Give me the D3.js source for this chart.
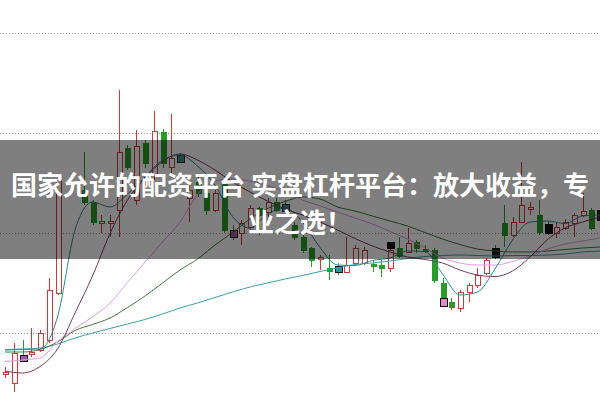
<!DOCTYPE html>
<html><head><meta charset="utf-8">
<script src="https://cdn.jsdelivr.net/npm/d3@7/dist/d3.min.js"></script>
<style>body{margin:0;background:#fff}svg{display:block}</style>
</head><body>
<svg id="chart" width="600" height="400"></svg>
<script>
// ---- data (price units) ----
const opens  = [5.9,5.0,7.8,7.9,8.3,9.3,14.0,null,null,24.3,23.1,21.0,21.0,22.3,28.5,23.3,29.0,25.8,30.1,26.6,27.8,23.5,25.1,24.0,22.3,25.0,20.3,20.0,20.6,22.5,22.1,23.1,22.9,20.8,19.6,18.5,17.4,16.5,16.7,16.1,17.0,17.0,16.9,16.8,16.5,18.5,18.1,19.1,18.4,18.3,15.0,13.1,12.5,14.1,14.8,16.0,18.4,21.0,19.8,21.1,22.4,21.8,20.9,20.0,20.5,21.0,21.8,22.3,22.3];
const highs  = [6.6,9.0,9.3,10.5,10.3,15.5,25.5,null,null,28.1,23.3,21.8,21.8,34.3,28.8,30.3,29.3,32.2,30.4,31.9,28.0,24.8,25.6,24.3,24.3,25.3,20.8,21.3,22.8,22.6,23.5,23.5,23.3,21.1,20.0,18.6,17.8,17.8,17.0,19.6,18.8,18.6,17.3,17.3,19.0,19.6,20.5,19.3,18.8,18.5,15.5,13.5,14.3,15.0,16.5,17.5,18.8,22.8,21.6,27.1,23.1,23.3,21.2,21.0,21.4,22.0,24.0,22.5,22.5];
const lows   = [5.5,4.1,7.2,7.6,8.1,9.0,13.8,null,null,22.8,20.8,20.0,19.6,19.6,26.3,22.8,26.5,25.3,26.5,26.0,27.0,21.1,23.6,21.8,22.1,20.0,19.3,18.8,20.3,19.8,21.6,22.1,22.1,19.3,18.0,16.6,16.3,15.3,15.8,16.0,16.8,16.8,16.1,15.6,16.1,17.5,18.0,18.0,18.0,15.0,12.7,12.3,12.1,13.1,14.5,15.8,17.4,18.6,19.6,21.0,21.8,19.8,19.8,19.5,20.3,19.6,21.6,20.3,21.0];
const closes = [6.1,8.0,7.3,8.1,10.0,14.3,25.3,null,null,23.1,21.1,21.2,21.2,28.1,26.6,28.7,27.0,30.2,27.0,27.5,27.3,24.3,24.0,22.3,24.0,20.3,19.6,21.0,22.5,21.8,23.1,22.3,22.3,19.6,18.3,17.3,17.6,16.2,16.1,16.8,18.5,18.3,16.7,16.5,18.3,17.7,19.0,18.5,18.2,15.3,13.5,12.6,14.1,14.8,15.8,17.3,17.6,19.8,21.1,22.8,22.6,20.1,20.1,20.6,21.1,21.8,22.2,20.5,21.3];

// signal boxes
const markIdx  = [2,20,26,32,38,44,50,56,62,68];
const markHi   = [7.8,27.8,20.3,22.9,16.7,19.1,13.5,18.5,20.9,22.3];
const markLo   = [7.2,27.1,19.6,22.2,16.1,18.5,12.7,17.6,20.0,21.3];
const markKind = ["purple","teal","purple","teal","teal","black","pink","black","black","black"];

// moving averages sampled at even candle indices
const maIdx = d3.range(0, 69, 2);
const ma5  = [8.3,8.35,8.4,11.6,20.3,23.1,22.6,23.9,25.6,27.3,27.8,26.7,24.8,21.65,20.5,21.9,22.5,21.1,18.55,16.8,16.75,17.26,17.5,18.2,18.15,15.9,13.8,14.1,16.4,19.3,21.1,21.2,20.95,21.7,21.8];
const ma10 = [6.2,6.0,6.65,8.4,12.0,15.7,19.95,23.3,25.5,27.15,27.9,27.3,26.3,25.1,24.1,23.2,22.4,21.8,21.1,20.3,19.45,18.7,18.1,17.6,17.35,17.0,16.3,15.8,15.65,16.2,17.6,19.35,20.5,21.1,21.6];
const ma20 = [7.15,7.3,7.5,9.15,10.45,11.6,13.0,15.05,17.1,19.1,21.1,23.85,25.2,25.4,25.2,24.75,24.1,23.3,22.7,22.1,21.5,20.9,20.15,19.4,18.5,17.5,17.0,16.8,16.8,17.15,17.7,18.4,18.9,19.2,19.5];
const ma30 = [8.1,8.1,8.35,9.1,10.25,10.85,11.5,12.55,13.7,15.0,16.3,17.4,18.8,20.05,21.4,22.45,23.15,23.6,23.4,22.6,22.2,21.7,21.2,20.7,20.05,19.4,18.85,18.4,18.2,18.1,18.1,18.2,18.35,18.5,18.6];
const ma60 = [8.35,8.4,8.5,8.9,9.5,10.0,10.45,10.9,11.35,11.9,12.5,13.0,13.55,14.1,14.6,15.0,15.4,15.75,16.15,16.5,16.85,17.0,17.2,17.45,17.65,17.75,17.8,17.75,17.7,17.75,17.75,17.8,17.9,18.1,18.2];

const gridVals = [10,20,30,40];
const titleLines = ["国家允许的配资平台 实盘杠杆平台：放大收益，专", "业之选！"];

// ---- drawing ----
const svg = d3.select("#chart");
const x = d3.scaleLinear().domain([0, 68]).range([5, 600]);
const y = d3.scaleLinear().domain([10, 40]).range([333, 33]);

const RED = "#cf3b3b", GREEN = "#2a9a2a";
const markFill = {purple:"#a85aa8", teal:"#3d8f95", black:"#151515", pink:"#d98cc8"};

// grid
svg.append("g").selectAll("line").data(gridVals).join("line")
  .attr("x1", 0).attr("x2", 600)
  .attr("y1", d => Math.round(y(d)) + 0.5).attr("y2", d => Math.round(y(d)) + 0.5)
  .attr("stroke", "#9a9a9a").attr("stroke-width", 1).attr("stroke-dasharray", "1,2");

// candles
const candles = d3.range(opens.length).filter(i => opens[i] != null)
  .map(i => ({i, o: opens[i], h: highs[i], l: lows[i], c: closes[i]}));
const cg = svg.append("g").attr("shape-rendering", "crispEdges");
const cx = d => Math.round(x(d.i)) + 0.5;
cg.selectAll("line").data(candles).join("line")
  .attr("x1", cx).attr("x2", cx)
  .attr("y1", d => y(d.h)).attr("y2", d => y(d.l))
  .attr("stroke", d => d.c >= d.o ? RED : GREEN);
cg.selectAll("rect").data(candles).join("rect")
  .attr("x", d => cx(d) - 2.5).attr("width", 5)
  .attr("y", d => y(Math.max(d.o, d.c)))
  .attr("height", d => Math.max(1, Math.abs(y(d.o) - y(d.c))))
  .attr("fill", d => d.c >= d.o ? "#fff" : GREEN)
  .attr("stroke", d => d.c >= d.o ? RED : GREEN);

// signal boxes
svg.append("g").attr("shape-rendering", "crispEdges").selectAll("rect")
  .data(markIdx.map((i, k) => ({i, hi: markHi[k], lo: markLo[k], kind: markKind[k]})))
  .join("rect")
  .attr("x", d => Math.round(x(d.i)) - 3).attr("width", 7)
  .attr("y", d => y(d.hi)).attr("height", d => y(d.lo) - y(d.hi))
  .attr("fill", d => markFill[d.kind]).attr("stroke", "#111").attr("stroke-width", 1);

// moving averages
const mas = [
  {v: ma60, color: "#3c9fb0"},
  {v: ma30, color: "#3e7a3e"},
  {v: ma20, color: "#e39be3"},
  {v: ma10, color: "#7a3b60"},
  {v: ma5,  color: "#2f8c8c"}
];
const line = d3.line().x((d, k) => x(maIdx[k])).y(d => y(d)).curve(d3.curveMonotoneX);
svg.append("g").selectAll("path").data(mas).join("path")
  .attr("d", d => line(d.v)).attr("fill", "none")
  .attr("stroke", d => d.color).attr("stroke-width", 1);

// banner overlay
svg.append("rect").attr("x", 0).attr("y", 140).attr("width", 600).attr("height", 119)
  .attr("fill", "rgba(0,0,0,0.5)");
svg.append("g").selectAll("text").data(titleLines).join("text")
  .attr("x", 300).attr("y", (d, k) => 183 + k * 37)
  .attr("text-anchor", "middle").attr("dominant-baseline", "central")
  .attr("font-family", "'Noto Sans CJK SC', 'Noto Sans', sans-serif")
  .attr("font-weight", "bold").attr("font-size", 26).attr("fill", "#fff")
  .text(d => d);
</script>
</body></html>
